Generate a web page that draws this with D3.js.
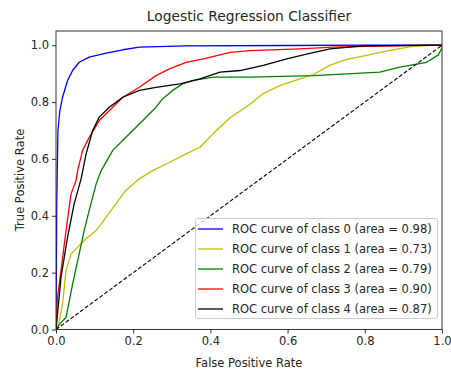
<!DOCTYPE html>
<html><head><meta charset="utf-8">
<script src="https://cdn.jsdelivr.net/npm/d3@7/dist/d3.min.js"></script>
<style>body{margin:0;background:#fff}svg{display:block;font-family:"DejaVu Sans",sans-serif}</style>
</head><body>
<script>
const title = "Logestic Regression Classifier";
const xTicks = [0, 0.2, 0.4, 0.6, 0.8, 1.0];
const yTicks = [0, 0.2, 0.4, 0.6, 0.8, 1.0];
const classNames = ["class 0", "class 1", "class 2", "class 3", "class 4"];
const areas = [0.98, 0.73, 0.79, 0.90, 0.87];
const colors = ["#0000ff", "#bfbf00", "#008000", "#ff0000", "#000000"];
const class0 = [[0,0],[0.001,0.2],[0.002,0.45],[0.005,0.7],[0.01,0.77],[0.017,0.817],[0.03,0.876],[0.043,0.911],[0.06,0.94],[0.086,0.958],[0.13,0.972],[0.173,0.984],[0.216,0.993],[0.337,0.998],[0.6,0.999],[0.81,1],[1,1]];
const class1 = [[0,0],[0.004,0],[0.01,0.04],[0.017,0.09],[0.026,0.207],[0.039,0.266],[0.06,0.295],[0.078,0.319],[0.104,0.348],[0.13,0.395],[0.155,0.442],[0.181,0.489],[0.216,0.53],[0.25,0.559],[0.287,0.583],[0.337,0.618],[0.373,0.641],[0.408,0.69],[0.451,0.745],[0.5,0.79],[0.537,0.83],[0.58,0.858],[0.624,0.878],[0.667,0.897],[0.71,0.93],[0.753,0.95],[0.805,0.964],[0.839,0.975],[0.88,0.985],[0.92,0.995],[0.977,1],[1,1]];
const class2 = [[0,0],[0.004,0.01],[0.026,0.043],[0.043,0.16],[0.06,0.266],[0.073,0.348],[0.086,0.419],[0.104,0.512],[0.117,0.559],[0.147,0.63],[0.181,0.676],[0.225,0.735],[0.259,0.782],[0.276,0.811],[0.302,0.841],[0.328,0.864],[0.356,0.876],[0.408,0.888],[0.503,0.888],[0.667,0.893],[0.839,0.905],[0.891,0.923],[0.96,0.94],[0.99,0.965],[1,0.99],[1,1]];
const class3 = [[0,0],[0.001,0.05],[0.004,0.114],[0.013,0.207],[0.026,0.348],[0.039,0.477],[0.052,0.524],[0.056,0.559],[0.069,0.63],[0.086,0.676],[0.112,0.735],[0.147,0.782],[0.173,0.817],[0.216,0.852],[0.259,0.893],[0.294,0.917],[0.337,0.94],[0.382,0.952],[0.451,0.975],[0.503,0.981],[0.632,0.987],[0.717,0.993],[0.806,0.996],[0.977,1],[1,1]];
const class4 = [[0,0],[0.004,0.055],[0.013,0.184],[0.03,0.325],[0.047,0.442],[0.065,0.53],[0.078,0.618],[0.095,0.7],[0.112,0.747],[0.138,0.782],[0.173,0.817],[0.216,0.841],[0.259,0.852],[0.321,0.864],[0.373,0.882],[0.425,0.905],[0.477,0.911],[0.537,0.929],[0.598,0.952],[0.649,0.969],[0.71,0.987],[0.796,0.998],[1,1]];
const diagonal = [[0,0],[1,1]];
const curves = [class0, class1, class2, class3, class4];

const W = 451, H = 372;
const svg = d3.select("body").append("svg").attr("width", W).attr("height", H);
const x = d3.scaleLinear().domain([0, 1]).range([56, 442]);
const y = d3.scaleLinear().domain([0, 1.05]).range([329.5, 31]);
const txt = "#262626";

const line = d3.line().x(d => x(d[0])).y(d => y(d[1]));
const g = svg.append("g");
g.append("defs").append("clipPath").attr("id","clip").append("rect")
  .attr("x", x(0)).attr("y", y(1.05)).attr("width", x(1)-x(0)).attr("height", y(0)-y(1.05));
const plot = g.append("g").attr("clip-path","url(#clip)");
curves.forEach((c, i) => {
  plot.append("path").datum(c).attr("d", line).attr("fill","none")
    .attr("stroke", colors[i]).attr("stroke-width", 1.3).attr("stroke-linejoin","round");
});
plot.append("path").datum(diagonal).attr("d", line).attr("fill","none")
  .attr("stroke","#000").attr("stroke-width",1.1).attr("stroke-dasharray","4,2");

// frame
g.append("rect").attr("x", x(0)).attr("y", y(1.05)).attr("width", x(1)-x(0)).attr("height", y(0)-y(1.05))
  .attr("fill","none").attr("stroke","#333").attr("stroke-width",1);

const xa = g.append("g").attr("transform", `translate(0,${y(0)})`)
  .call(d3.axisBottom(x).tickValues(xTicks).tickFormat(d3.format(".1f")).tickSize(4).tickPadding(3));
const ya = g.append("g").attr("transform", `translate(${x(0)},0)`)
  .call(d3.axisLeft(y).tickValues(yTicks).tickFormat(d3.format(".1f")).tickSize(4).tickPadding(3));
[xa, ya].forEach(a => {
  a.select(".domain").remove();
  a.selectAll("line").attr("stroke","#333");
  a.selectAll("text").attr("fill", txt).style("font-size","11.5px").style("font-family","DejaVu Sans");
});

svg.append("text").attr("x", 249).attr("y", 21).attr("text-anchor","middle")
  .attr("fill", txt).style("font-size","13.8px").text(title);
svg.append("text").attr("x", 249).attr("y", 367).attr("text-anchor","middle")
  .attr("fill", txt).style("font-size","11.5px").text("False Positive Rate");
svg.append("text").attr("transform","translate(24,180) rotate(-90)").attr("text-anchor","middle")
  .attr("fill", txt).style("font-size","11.5px").text("True Positive Rate");

// legend
const lg = svg.append("g");
lg.append("rect").attr("x",195.5).attr("y",218.5).attr("width",242).attr("height",100).attr("rx",2.5)
  .attr("fill","#fff").attr("fill-opacity",0.8).attr("stroke","#ccc").attr("stroke-width",1);
classNames.forEach((n, i) => {
  const yy = 229 + i*20;
  lg.append("line").attr("x1",198).attr("x2",223).attr("y1",yy).attr("y2",yy)
    .attr("stroke", colors[i]).attr("stroke-width",1.3);
  lg.append("text").attr("x",232).attr("y",yy+4).attr("fill",txt).style("font-size","11.5px")
    .text(`ROC curve of ${n} (area = ${areas[i].toFixed(2)})`);
});
</script>
</body></html>
